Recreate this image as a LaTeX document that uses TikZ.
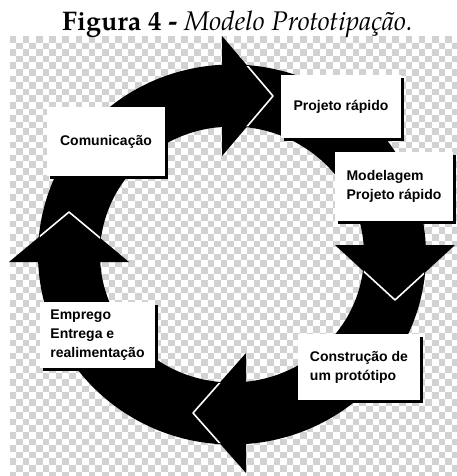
\documentclass[tikz,border=0pt]{standalone}
\usepackage{fontspec}
\setmainfont{Liberation Sans}
\newfontfamily\titlefont{TeX Gyre Pagella}
\usepackage{graphicx}
\usetikzlibrary{calc}
\definecolor{chk}{HTML}{D2D2D2}
\begin{document}
\begin{tikzpicture}[x=0.75pt,y=-0.75pt,
  shaft/.style={draw=black, line width=46.5pt, line cap=butt},
  head/.style={fill=black},
  rim/.style={draw=white, line width=1.2pt, line join=round},
  box/.style={fill=white, inner sep=0pt, align=left,
     font=\fontsize{10.5}{14.25}\selectfont\bfseries,
     preaction={fill=black, transform canvas={xshift=2.25pt, yshift=-2.25pt}}},
  chkrow/.style={draw=chk, line width=4.95pt, dash pattern=on 4.95pt off 4.95pt, line cap=butt}]
\useasboundingbox (0,0) rectangle (457,476);
\fill[white] (0,0) rectangle (457,476);
% checkerboard background
\foreach \r in {0,2,...,66} \draw[chkrow] (9.5,{36+6.6*(\r+0.5)}) -- (457,{36+6.6*(\r+0.5)});
\foreach \r in {1,3,...,65} \draw[chkrow] (16.1,{36+6.6*(\r+0.5)}) -- (457,{36+6.6*(\r+0.5)});
% ring
\coordinate (C) at (232,254.5);
\draw[shaft] ($(C)+(-180:163 and 159)$) arc[start angle=-180, end angle=-92, x radius=163, y radius=159];
\draw[shaft] ($(C)+(-90:163 and 159)$) arc[start angle=-90, end angle=-2, x radius=163, y radius=159];
\draw[shaft] ($(C)+(0:163 and 159)$) arc[start angle=0, end angle=86.5, x radius=163, y radius=159];
\draw[shaft] ($(C)+(90:163 and 159)$) arc[start angle=90, end angle=178.5, x radius=163, y radius=159];
% heads
\coordinate (h1a) at (222,36);  \coordinate (h1t) at (273,96);  \coordinate (h1b) at (222,156);
\coordinate (h2a) at (455,245); \coordinate (h2t) at (395,300); \coordinate (h2b) at (335,245);
\coordinate (h3a) at (246,473); \coordinate (h3t) at (193,413); \coordinate (h3b) at (246,353);
\coordinate (h4a) at (9,262);   \coordinate (h4t) at (69,212);  \coordinate (h4b) at (129,262);
\fill[head] (h1a) -- (h1t) -- (h1b) -- cycle;
\fill[head] (h2a) -- (h2t) -- (h2b) -- cycle;
\fill[head] (h3a) -- (h3t) -- (h3b) -- cycle;
\fill[head] (h4a) -- (h4t) -- (h4b) -- cycle;
\begin{scope}
\clip ($(C)+(193,0)$) arc[start angle=0, end angle=360, x radius=193, y radius=189] -- cycle
      ($(C)+(133,0)$) arc[start angle=0, end angle=-360, x radius=133, y radius=129] -- cycle;
\draw[rim] (h1a) -- (h1t) -- (h1b);
\draw[rim] (h2a) -- (h2t) -- (h2b);
\draw[rim] (h3a) -- (h3t) -- (h3b);
\draw[rim] (h4a) -- (h4t) -- (h4b);
\end{scope}
% boxes
\node[box, minimum width=88.5pt, minimum height=52.1pt] (comm) at (106,141.75) {Comunicação};
\node[box, minimum width=90pt, minimum height=47.6pt] (proj) at (341,106.75) {Projeto rápido};
\node[box, minimum width=88.5pt, minimum height=51.75pt] (model) at (394,186.5) {Modelagem\\Projeto rápido};
\node[box, minimum width=91.5pt, minimum height=49.5pt] (constr) at (359,367) {Construção de\\um protótipo};
\node[box, minimum width=86.25pt, minimum height=49.5pt] (empr) at (97.5,335) {Emprego\\Entrega e\\realimentação};
% title
\node[anchor=base, inner sep=0pt] (title) at (237.5,30) {\resizebox{263pt}{!}{\titlefont\textbf{Figura 4 -} \textit{Modelo Prototipação.}}};
\end{tikzpicture}
\end{document}
